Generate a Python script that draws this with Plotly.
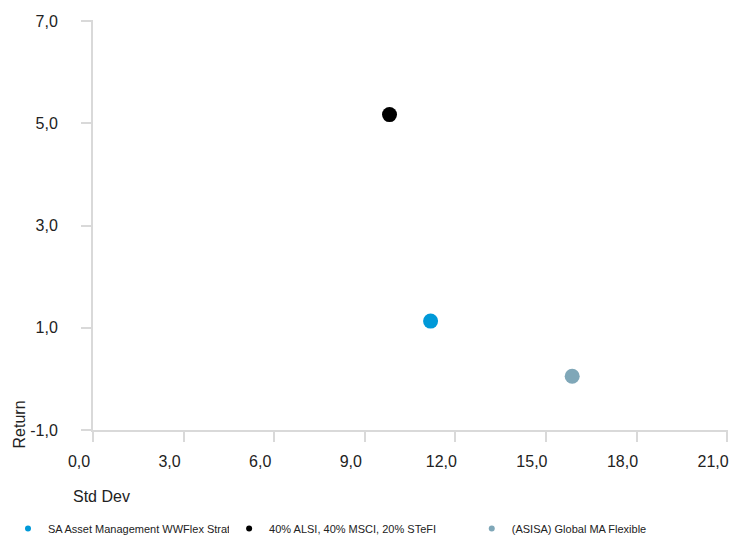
import plotly.graph_objects as go

names = ["SA Asset Management WWFlex Strat", "40% ALSI, 40% MSCI, 20% STeFI", "(ASISA) Global MA Flexible"]
std_dev = [11.18, 9.82, 15.87]
returns = [1.13, 5.17, 0.05]
colors = ["#0099d8", "#000000", "#7fa7b8"]

x_ticks = [0, 3, 6, 9, 12, 15, 18, 21]
y_ticks = [-1, 1, 3, 5, 7]


def fmt(v):
    return f"{v:.1f}".replace(".", ",")


legend_ids = ["legend", "legend2", "legend3"]
legend_x = [-0.035, 0.298, 0.625]

fig = go.Figure()
for n, x, y, c, lg in zip(names, std_dev, returns, colors, legend_ids):
    fig.add_trace(go.Scatter(x=[x], y=[y], mode="markers", name=n, showlegend=False,
                             marker=dict(color=c, size=15)))
    # small legend marker, one legend box per series
    fig.add_trace(go.Scatter(x=[None], y=[None], mode="markers", name=n, legend=lg,
                             marker=dict(color=c, size=6)))

axis_common = dict(showgrid=False, zeroline=False, showline=True, linecolor="#d9d9d9",
                   linewidth=2, ticks="outside", tickcolor="#d9d9d9", ticklen=10,
                   tickwidth=2, tickfont=dict(size=16, color="#222"))
fig.update_xaxes(range=[0, 21.03], tickvals=x_ticks, ticktext=[fmt(v) for v in x_ticks],
                 ticklabelstandoff=6, ticklabelshift=-14, **axis_common)
fig.update_yaxes(range=[-1, 7.02], tickvals=y_ticks, ticktext=[fmt(v) for v in y_ticks],
                 ticklabelstandoff=20, **axis_common)

fig.add_annotation(text="Std Dev", xref="paper", yref="paper", x=-0.035, y=-0.163,
                   xanchor="left", yanchor="middle", showarrow=False,
                   font=dict(size=16, color="#222"))
fig.add_annotation(text="Return", xref="paper", yref="paper", x=-0.115, y=-0.05,
                   xanchor="center", yanchor="bottom", textangle=-90, showarrow=False,
                   font=dict(size=16, color="#222"))

legend_style = dict(orientation="h", y=-0.007, xref="container", yref="container",
                    xanchor="left", yanchor="bottom", itemwidth=30,
                    font=dict(size=11, color="#222"))
fig.update_layout(
    width=742, height=535,
    margin=dict(l=85, r=22, t=12, b=113, autoexpand=False),
    plot_bgcolor="white", paper_bgcolor="white",
    font=dict(family="Liberation Sans, Arial, sans-serif"),
    legend=dict(x=legend_x[0], **legend_style),
    legend2=dict(x=legend_x[1], **legend_style),
    legend3=dict(x=legend_x[2], **legend_style),
)
fig.write_html("out.html")
